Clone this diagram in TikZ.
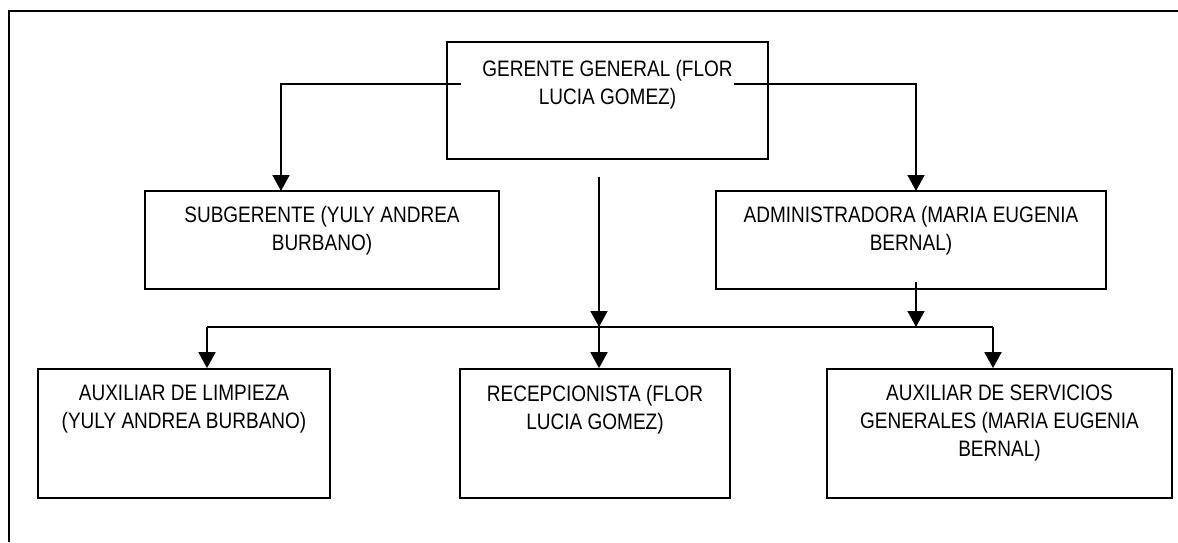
\documentclass[tikz,border=0pt]{standalone}
\usepackage{fontspec}
\setmainfont[FakeStretch=0.85]{Liberation Sans}
\usetikzlibrary{arrows.meta, positioning, fit}

\begin{document}
\begin{tikzpicture}[
            x=0.025cm, y=-0.025cm,
            caja/.style={rectangle, draw=black, line width=1.2pt, inner sep=0pt},
            texto/.style={font=\fontsize{15.9}{19.9}\selectfont, align=center, inner sep=0pt},
            flecha/.style={draw, line width=1.7pt, -{Triangle[length=0.4cm, width=0.42cm]}},
            linea/.style={draw, line width=1pt}
        ]
\useasboundingbox (0,0) rectangle (1178,542);

% ----- Marco -----
            \draw[line width=1.2pt] (9,542) -- (9,11) -- (1178,11);

% ----- Cajas -----
            \node[caja, fit={(447,42) (768,159)}] (gg) {};
            \node[caja, fit={(145,191) (499,289)}] (sg) {};
            \node[caja, fit={(716,191) (1106,289)}] (adm) {};
            \node[caja, fit={(38,369) (330,498)}] (lim) {};
            \node[caja, fit={(460,369) (730,498)}] (rec) {};
            \node[caja, fit={(827,369) (1172,498)}] (ser) {};

% ----- Textos -----
            \node[texto, below=0.48cm of gg.north] (gg-t) {GERENTE GENERAL (FLOR\\LUCIA GOMEZ)};
            \node[texto, below=0.39cm of sg.north] (sg-t) {SUBGERENTE (YULY ANDREA\\BURBANO)};
            \node[texto, below=0.39cm of adm.north] (adm-t) {ADMINISTRADORA (MARIA EUGENIA\\BERNAL)};
            \node[texto, below=0.42cm of lim.north] (lim-t) {AUXILIAR DE LIMPIEZA\\(YULY ANDREA BURBANO)};
            \node[texto, below=0.42cm of rec.north] (rec-t) {RECEPCIONISTA (FLOR\\LUCIA GOMEZ)};
            \node[texto, below=0.42cm of ser.north] (ser-t) {AUXILIAR DE SERVICIOS\\GENERALES (MARIA EUGENIA\\BERNAL)};

% ----- Puntos de las lineas -----
            \coordinate (gg-i) at (461,84);
            \coordinate (gg-d) at (734,84);
            \coordinate (sg-e) at (281,191);
            \coordinate (adm-e) at (916,191);
            \coordinate (gg-c) at (599,177);
            \coordinate (bus) at (599,327);
            \coordinate (bus-i) at (207,327);
            \coordinate (bus-d) at (993,327);
            \coordinate (adm-s) at (916,282);
            \coordinate (adm-b) at (916,327);

% ----- Conexiones -----
            \draw[flecha] (gg-i) -| (sg-e);
            \draw[flecha] (gg-d) -| (adm-e);
            \draw[flecha] (gg-c) -- (bus);
            \draw[flecha] (adm-s) -- (adm-b);
            \draw[linea] (bus-i) -- (bus-d);
            \draw[flecha] (bus-i) -- (bus-i |- lim.north);
            \draw[flecha] (bus) -- (bus |- rec.north);
            \draw[flecha] (bus-d) -- (bus-d |- ser.north);

        \end{tikzpicture}
\end{document}
